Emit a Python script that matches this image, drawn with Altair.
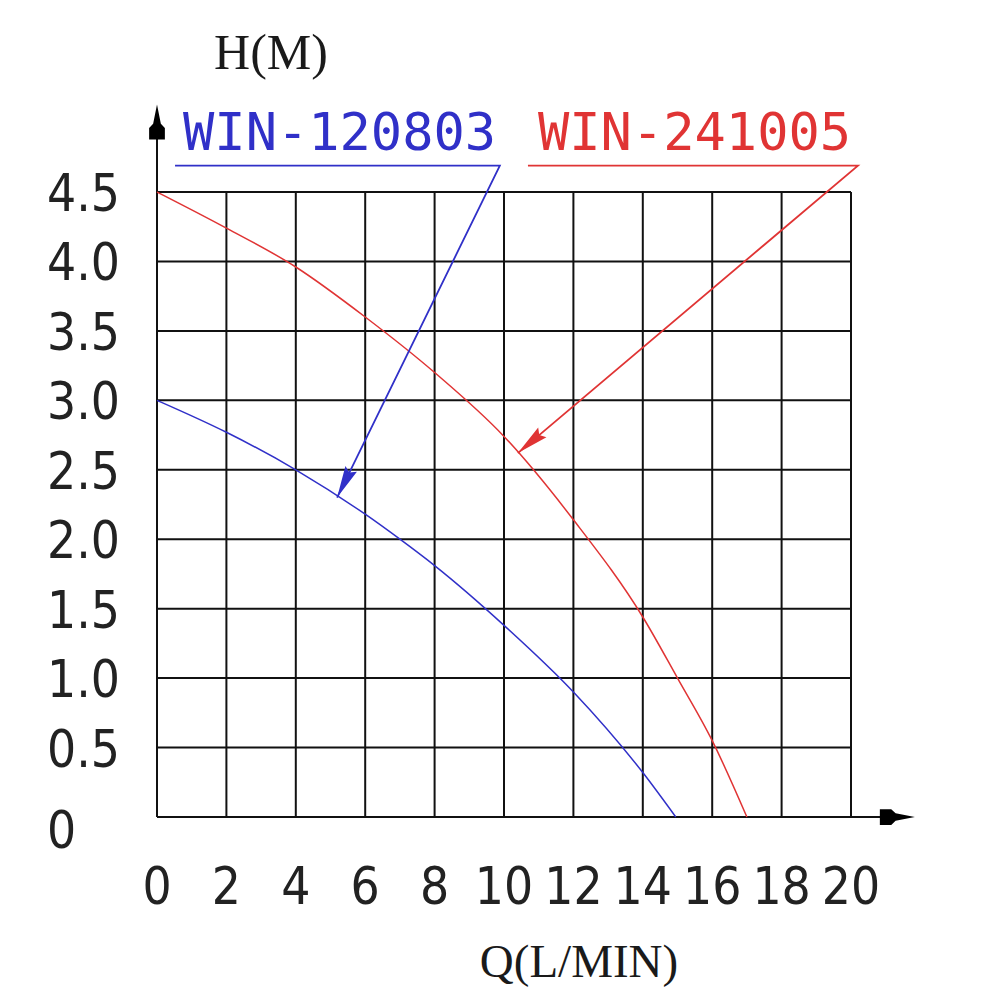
import math
import altair as alt
import pandas as pd

# ---------------- data ----------------
blue_q = [0, 2, 4, 6, 7, 8, 10, 12, 14, 14.95]
blue_h = [3.0, 2.77, 2.50, 2.18, 2.0, 1.81, 1.38, 0.90, 0.32, 0.0]
red_q = [0, 2, 4, 6, 8, 10, 12, 14, 15, 16, 17]
red_h = [4.5, 4.24, 3.96, 3.60, 3.20, 2.74, 2.14, 1.44, 1.0, 0.55, 0.0]

x_ticks = [0, 2, 4, 6, 8, 10, 12, 14, 16, 18, 20]
y_ticks = [0, 0.5, 1.0, 1.5, 2.0, 2.5, 3.0, 3.5, 4.0, 4.5]
y_tick_labels = ["0", "0.5", "1.0", "1.5", "2.0", "2.5", "3.0", "3.5", "4.0", "4.5"]

series_names = ["WIN-120803", "WIN-241005"]
series_colors = ["#3030c8", "#e03434"]

# annotation leaders: underline from lead_x0 to lead_x1 at lead_y, then to the arrow tip on the curve
label_q = [0.75, 10.98]
label_h = [4.80, 4.80]
lead_x0 = [0.52, 10.69]
lead_x1 = [9.88, 20.2]
lead_y = [4.69, 4.69]
tip_x = [5.19, 10.40]
tip_y = [2.30, 2.62]

axis_end_q = 21.84
axis_end_h = 5.13

x_title = "Q(L/MIN)"
y_title = "H(M)"

# ---------------- scales / layout ----------------
W = H = 984
PX_X = 34.7      # pixels per unit of Q
PX_Y = 138.89    # pixels per unit of H
X_MIN = -149 / PX_X
X_MAX = X_MIN + W / PX_X
Y_MAX = 809 / PX_Y
Y_MIN = Y_MAX - H / PX_Y

xs = alt.Scale(domain=[X_MIN, X_MAX], nice=False, zero=False)
ys = alt.Scale(domain=[Y_MIN, Y_MAX], nice=False, zero=False)
cs = alt.Scale(domain=series_names, range=series_colors)

def X(f):
    return alt.X(f, type="quantitative", scale=xs, axis=None)

def Y(f):
    return alt.Y(f, type="quantitative", scale=ys, axis=None)

COL = alt.Color("series:N", scale=cs, legend=None)

# ---------------- grid ----------------
vgrid = pd.DataFrame({"q": x_ticks, "h0": 0.0, "h1": max(y_ticks)})
hgrid = pd.DataFrame({"h": y_ticks, "q0": 0.0, "q1": max(x_ticks)})
grid_v = alt.Chart(vgrid).mark_rule(color="#111111", strokeWidth=2).encode(
    x=X("q"), y=Y("h0"), y2="h1")
grid_h = alt.Chart(hgrid).mark_rule(color="#111111", strokeWidth=2).encode(
    y=Y("h"), x=X("q0"), x2="q1")

axes_df = pd.DataFrame({
    "q0": [0.0, 0.0], "q1": [0.0, axis_end_q - 0.4],
    "h0": [0.0, 0.0], "h1": [axis_end_h - 0.1, 0.0]})
axes = alt.Chart(axes_df).mark_rule(color="#111111", strokeWidth=2).encode(
    x=X("q0"), x2="q1", y=Y("h0"), y2="h1")

AXIS_ARROW = "M0,0L0.22,1.1L0.45,1.35L0.45,2L-0.45,2L-0.45,1.35L-0.22,1.1Z"
axarrow_df = pd.DataFrame({"q": [0.0, axis_end_q], "h": [axis_end_h, 0.0], "ang": [0, 90]})
axis_arrows = alt.Chart(axarrow_df).mark_point(
    shape=AXIS_ARROW, filled=True, size=1225, color="#000000", opacity=1, strokeWidth=0
).encode(x=X("q"), y=Y("h"), angle=alt.Angle("ang:Q", scale=None))

# ---------------- curves ----------------
rows = []
for i, (q, h) in enumerate(zip(blue_q, blue_h)):
    rows.append({"series": series_names[0], "q": q, "h": h, "o": i})
for i, (q, h) in enumerate(zip(red_q, red_h)):
    rows.append({"series": series_names[1], "q": q, "h": h, "o": i})
curves_df = pd.DataFrame(rows)
curves = alt.Chart(curves_df).mark_line(strokeWidth=1.5, interpolate="monotone").encode(
    x=X("q"), y=Y("h"), color=COL, detail="series:N", order="o:Q")

# ---------------- annotation leaders ----------------
lrows = []
for s in range(2):
    pts = [(lead_x0[s], lead_y[s]), (lead_x1[s], lead_y[s]), (tip_x[s], tip_y[s])]
    for j, (q, h) in enumerate(pts):
        lrows.append({"series": series_names[s], "q": q, "h": h, "o": j})
leaders = alt.Chart(pd.DataFrame(lrows)).mark_line(strokeWidth=1.8).encode(
    x=X("q"), y=Y("h"), color=COL, detail="series:N", order="o:Q")

arows = []
for s in range(2):
    dx = (tip_x[s] - lead_x1[s]) * PX_X
    dy = (lead_y[s] - tip_y[s]) * PX_Y
    ang = math.degrees(math.atan2(dx, -dy)) % 360
    arows.append({"series": series_names[s], "q": tip_x[s], "h": tip_y[s], "ang": ang})
ARROW = "M0,0L0.4,2L0,1.75L-0.4,2Z"
tips = alt.Chart(pd.DataFrame(arows)).mark_point(
    shape=ARROW, filled=True, size=1024, opacity=1, strokeWidth=0
).encode(x=X("q"), y=Y("h"), color=COL, angle=alt.Angle("ang:Q", scale=None))

labels_df = pd.DataFrame({"series": series_names, "q": label_q, "h": label_h})
series_labels = alt.Chart(labels_df).mark_text(
    align="left", baseline="alphabetic", font="DejaVu Sans Mono", fontSize=52
).encode(x=X("q"), y=Y("h"), text="series:N", color=COL)

# ---------------- tick labels ----------------
TICK_FONT = "Liberation Sans Narrow, DejaVu Sans Condensed, Noto Sans, sans-serif"
xl_df = pd.DataFrame({"q": x_ticks, "h": 0.0, "t": [str(v) for v in x_ticks]})
x_labels = alt.Chart(xl_df).mark_text(
    align="center", baseline="alphabetic", dy=87, font=TICK_FONT, fontSize=51, color="#222222"
).encode(x=X("q"), y=Y("h"), text="t:N")

yl_df = pd.DataFrame({"q": 0.0, "h": y_ticks, "t": y_tick_labels})
y_labels = alt.Chart(yl_df).transform_filter("datum.h > 0").mark_text(
    align="left", baseline="alphabetic", dx=-110, dy=19, font=TICK_FONT, fontSize=51, color="#222222"
).encode(x=X("q"), y=Y("h"), text="t:N")
y_label0 = alt.Chart(yl_df).transform_filter("datum.h == 0").mark_text(
    align="left", baseline="alphabetic", dx=-110, dy=31, font=TICK_FONT, fontSize=51, color="#222222"
).encode(x=X("q"), y=Y("h"), text="t:N")

# ---------------- axis titles ----------------
ttl_df = pd.DataFrame({"t": [y_title]})
y_ttl = alt.Chart(ttl_df).mark_text(
    align="center", baseline="alphabetic", font="Liberation Serif", fontSize=50, color="#1a1a1a"
).encode(x=alt.value(263), y=alt.value(61), text="t:N")
xt_df = pd.DataFrame({"t": [x_title]})
x_ttl = alt.Chart(xt_df).mark_text(
    align="center", baseline="alphabetic", font="Liberation Serif", fontSize=47, color="#1a1a1a"
).encode(x=alt.value(571), y=alt.value(969), text="t:N")

chart = alt.layer(
    grid_v, grid_h, axes, axis_arrows, curves, leaders, tips, series_labels,
    x_labels, y_labels, y_label0, y_ttl, x_ttl
).properties(
    width=W, height=H, padding=0, autosize=alt.AutoSizeParams(type="none"),
    background="white"
).configure_view(stroke=None)

chart.save("out.html", embed_options={"renderer": "svg", "actions": False})
